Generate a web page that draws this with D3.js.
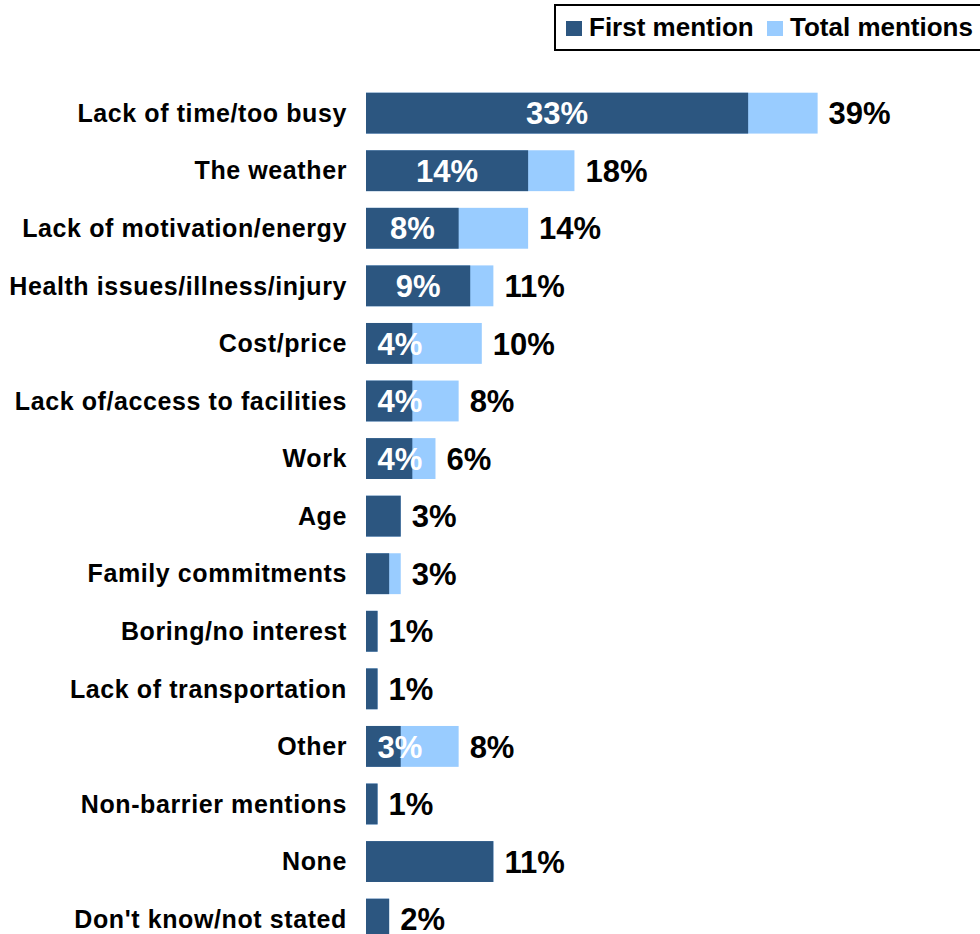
<!DOCTYPE html>
<html>
<head>
<meta charset="utf-8">
<script src="https://cdn.jsdelivr.net/npm/d3@7"></script>
<style>
  html, body { margin: 0; padding: 0; background: #fff; }
  svg { display: block; font-family: "Liberation Sans", Arial, sans-serif; font-weight: bold; }
</style>
</head>
<body>
<svg id="chart" width="980" height="934"></svg>
<script>
// Barriers to participation: first mention vs. total mentions (%)
const categories = [
  "Lack of time/too busy",
  "The weather",
  "Lack of motivation/energy",
  "Health issues/illness/injury",
  "Cost/price",
  "Lack of/access to facilities",
  "Work",
  "Age",
  "Family commitments",
  "Boring/no interest",
  "Lack of transportation",
  "Other",
  "Non-barrier mentions",
  "None",
  "Don't know/not stated"
];
const firstMention = [33, 14, 8, 9, 4, 4, 4, 3, 2, 1, 1, 3, 1, 11, 2];
const totalMentions = [39, 18, 14, 11, 10, 8, 6, 3, 3, 1, 1, 8, 1, 11, 2];
const seriesNames = ["First mention", "Total mentions"];
const seriesColors = ["#2c5680", "#99ccff"];

const svg = d3.select("#chart");

const x = d3.scaleLinear().domain([0, 40]).range([366, 829.2]);
const y = d3.scaleBand()
  .domain(categories)
  .range([84.35, 947.9])
  .paddingInner(0.29)
  .paddingOuter(0.145);

const rows = categories.map((c, i) => ({ c, first: firstMention[i], total: totalMentions[i] }));

// total mentions (light) behind, first mention (dark) in front
svg.append("g").selectAll("rect")
  .data(rows).join("rect")
  .attr("x", x(0))
  .attr("y", d => y(d.c))
  .attr("width", d => x(d.total) - x(0))
  .attr("height", y.bandwidth())
  .attr("fill", seriesColors[1]);

svg.append("g").selectAll("rect")
  .data(rows).join("rect")
  .attr("x", x(0))
  .attr("y", d => y(d.c))
  .attr("width", d => x(d.first) - x(0))
  .attr("height", y.bandwidth())
  .attr("fill", seriesColors[0]);

// category labels
svg.append("g").selectAll("text")
  .data(rows).join("text")
  .attr("x", 347)
  .attr("y", d => y(d.c) + y.bandwidth() / 2)
  .attr("dy", "0.35em")
  .attr("text-anchor", "end")
  .attr("font-size", 25)
  .attr("letter-spacing", 0.6)
  .attr("fill", "#000")
  .text(d => d.c);

// first-mention values inside the dark bars
svg.append("g").selectAll("text")
  .data(rows.filter(d => d.total > d.first && d.first >= 3)).join("text")
  .attr("x", d => Math.max((x(0) + x(d.first)) / 2, x(0) + 34))
  .attr("y", d => y(d.c) + y.bandwidth() / 2)
  .attr("dy", "0.36em")
  .attr("text-anchor", "middle")
  .attr("font-size", 31)
  .attr("fill", "#fff")
  .text(d => d.first + "%");

// total values after the bars
svg.append("g").selectAll("text")
  .data(rows).join("text")
  .attr("x", d => x(d.total) + 11)
  .attr("y", d => y(d.c) + y.bandwidth() / 2)
  .attr("dy", "0.36em")
  .attr("font-size", 31)
  .attr("fill", "#000")
  .text(d => d.total + "%");

// legend
const legend = svg.append("g");
legend.append("rect")
  .attr("x", 555).attr("y", 5)
  .attr("width", 440).attr("height", 45)
  .attr("fill", "#fff")
  .attr("stroke", "#000")
  .attr("stroke-width", 2);
const legendX = [566, 767];
seriesNames.forEach((name, i) => {
  legend.append("rect")
    .attr("x", legendX[i]).attr("y", 21)
    .attr("width", 16).attr("height", 15)
    .attr("fill", seriesColors[i]);
  legend.append("text")
    .attr("x", legendX[i] + 23).attr("y", 36)
    .attr("font-size", 26)
    .attr("fill", "#000")
    .text(name);
});
</script>
</body>
</html>
